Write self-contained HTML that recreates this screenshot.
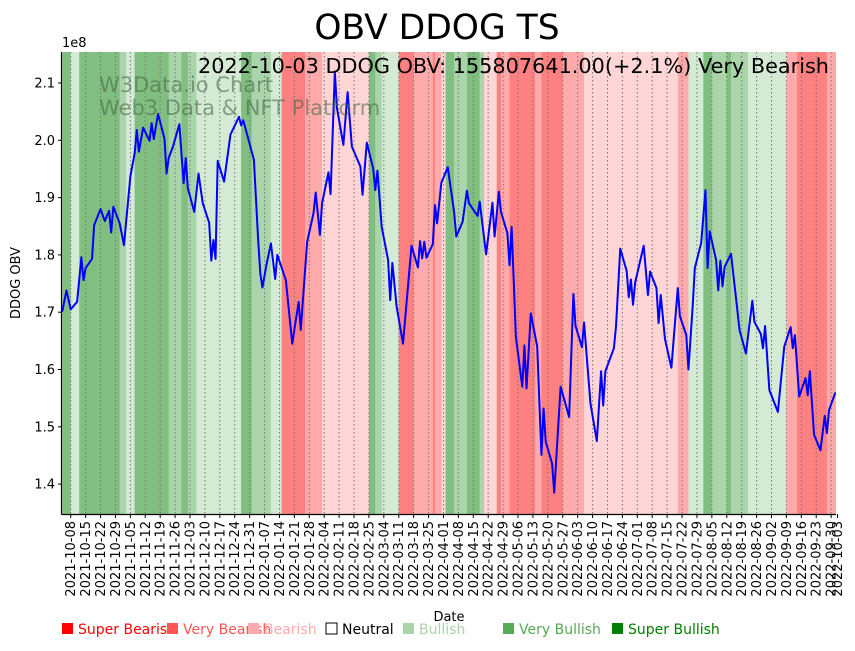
<!DOCTYPE html>
<html><head><meta charset="utf-8"><style>
body{margin:0;background:#fff;}
svg text{font-family:"DejaVu Sans","Liberation Sans",sans-serif;}
</style></head><body>
<svg id="chart" width="855" height="646" xmlns="http://www.w3.org/2000/svg"></svg>
<script>
const days=[0,2,4,7,9,10,11,14,15,18,20,22,23,24,27,29,32,34,35,36,38,41,42,43,45,48,49,50,52,55,57,58,59,62,64,66,69,70,71,72,73,76,79,83,84,85,90,92,93,94,96,98,100,101,105,108,111,112,115,118,119,121,122,125,126,128,129,132,134,136,140,141,143,146,147,148,150,153,154,155,157,160,164,167,168,169,170,171,174,175,176,178,181,184,185,188,190,191,195,196,199,202,203,205,206,209,210,211,213,216,217,218,220,223,225,226,227,230,231,234,238,240,241,244,245,248,251,253,254,255,259,260,262,265,266,267,268,269,273,275,276,279,280,281,283,286,289,290,293,294,296,297,300,302,303,304,307,308,309,310,311,314,316,318,321,324,325,328,329,330,332,336,339,342,343,344,346,349,350,351,353,356,358,359,360,363];
const obv=[1.701,1.738,1.705,1.718,1.796,1.756,1.777,1.793,1.852,1.880,1.859,1.877,1.839,1.884,1.855,1.817,1.937,1.977,2.018,1.980,2.022,1.999,2.030,2.002,2.046,2.003,1.942,1.969,1.989,2.028,1.925,1.969,1.916,1.875,1.942,1.890,1.856,1.790,1.826,1.793,1.964,1.928,2.010,2.041,2.026,2.035,1.966,1.826,1.768,1.743,1.785,1.820,1.758,1.800,1.756,1.645,1.718,1.669,1.823,1.873,1.909,1.835,1.890,1.944,1.906,2.120,2.056,1.992,2.084,1.989,1.954,1.905,1.996,1.951,1.913,1.947,1.849,1.791,1.721,1.786,1.710,1.645,1.816,1.778,1.824,1.794,1.823,1.795,1.819,1.887,1.855,1.926,1.953,1.875,1.832,1.858,1.912,1.890,1.868,1.893,1.801,1.891,1.832,1.910,1.875,1.838,1.782,1.849,1.657,1.570,1.642,1.567,1.698,1.640,1.451,1.532,1.474,1.436,1.385,1.570,1.517,1.732,1.676,1.639,1.682,1.541,1.475,1.597,1.537,1.597,1.637,1.675,1.811,1.772,1.726,1.757,1.713,1.752,1.816,1.730,1.771,1.742,1.681,1.730,1.653,1.603,1.742,1.693,1.660,1.600,1.710,1.777,1.821,1.913,1.777,1.841,1.791,1.738,1.790,1.745,1.779,1.802,1.736,1.669,1.628,1.720,1.683,1.662,1.637,1.676,1.564,1.526,1.640,1.674,1.637,1.660,1.553,1.585,1.555,1.597,1.486,1.459,1.519,1.489,1.529,1.560];
const bandStart=[0,4,8,27,30,34,50,56,59,63,84,89,98,103,114,122,144,147,150,158,165,174,175,178,180,184,190,196,198,204,206,210,222,225,235,245,289,294,301,305,312,314,322,340,345,359];
const bandEnd=[4,8,27,30,34,50,56,59,63,84,89,98,103,114,122,144,147,150,158,165,174,175,178,180,184,190,196,198,204,206,210,222,225,235,245,289,294,301,305,312,314,322,340,345,359,364.5];
const bandLevel=[3,1,3,2,1,3,2,3,2,1,3,2,1,-3,-2,-1,3,2,1,-3,-2,-3,-2,-1,3,2,3,2,-1,-3,-2,-3,-2,-3,-2,-1,-2,1,3,2,3,2,1,-2,-3,-2];
const yTicks=[1.4,1.5,1.6,1.7,1.8,1.9,2.0,2.1];
const tickLabels=[];
(function(){const s=new Date(Date.UTC(2021,9,8));for(let k=0;k<52;k++){const d=new Date(s.getTime()+k*7*864e5);tickLabels.push(d.toISOString().slice(0,10));}tickLabels.push('2022-10-03');})();
const ns='http://www.w3.org/2000/svg';const svg=document.getElementById('chart');
const X0=62,X1=836,Y0=52,Y1=514;
const xs=d=>62.2+2.13*d;const ys=v=>83+(2.1-v)*573;
function mk(t,a,p){const e=document.createElementNS(ns,t);for(const k in a)e.setAttribute(k,a[k]);(p||svg).appendChild(e);return e;}
const colors={'3':'#80bf80','2':'#aad4aa','1':'#d5ead5','-1':'#ffd5d5','-2':'#ffaaaa','-3':'#ff8080'};
const cp=mk('clipPath',{id:'cp'});mk('rect',{x:X0,y:Y0,width:X1-X0,height:Y1-Y0},cp);
const g=mk('g',{'clip-path':'url(#cp)'});

for(let i=0;i<bandStart.length;i++){const a=xs(bandStart[i]),b=xs(bandEnd[i]);
const r=mk('rect',{x:a,y:Y0,width:b-a+0.3,height:Y1-Y0,fill:colors[bandLevel[i]]},g);
}
const tickDays=tickLabels.map(t=>(Date.parse(t)-Date.UTC(2021,9,4))/864e5);
tickDays.forEach(d=>{const l=mk('line',{x1:xs(d),x2:xs(d),y1:Y0,y2:Y1,stroke:'#777','stroke-width':1,'stroke-dasharray':'1.5,2.5'},g);
});
const line=mk('polyline',{points:days.map((d,i)=>xs(d)+','+ys(obv[i])).join(' '),fill:'none',stroke:'#0000ff','stroke-width':2,'stroke-linejoin':'round'},g);

function txt(s,a,name){const t=mk('text',a);t.textContent=s;return t;}
txt('W3Data.io Chart',{x:99,y:92,'font-size':21,fill:'#4a6a4a','fill-opacity':0.6},'watermark-line1');
txt('Web3 Data & NFT Platform',{x:99,y:115,'font-size':21,fill:'#4a6a4a','fill-opacity':0.6},'watermark-line2');
txt('2022-10-03 DDOG OBV: 155807641.00(+2.1%) Very Bearish',{x:829,y:73,'font-size':20.8,'text-anchor':'end',fill:'#000'},'annotation');
mk('line',{x1:X0-0.5,x2:X0-0.5,y1:Y0,y2:Y1+0.5,stroke:'#000','stroke-width':1.2});
mk('line',{x1:X0-0.5,x2:X1,y1:Y1+0.5,y2:Y1+0.5,stroke:'#000','stroke-width':1.2});
yTicks.forEach(v=>{const y=ys(v);const l=mk('line',{x1:X0-4,x2:X0,y1:y,y2:y,stroke:'#000'});
txt(v.toFixed(1),{x:X0-7,y:y+4.5,'font-size':13,'text-anchor':'end'},'y-tick-label');});
tickDays.forEach((d,i)=>{const x=xs(d);const l=mk('line',{x1:x,x2:x,y1:Y1,y2:Y1+4,stroke:'#000'});
txt(tickLabels[i],{x:0,y:0,'font-size':13,'text-anchor':'end',transform:`translate(${x+4.5},${Y1+7}) rotate(-90)`},'x-tick-label');});
txt('1e8',{x:62,y:47,'font-size':13},'y-scale-label');
txt('DDOG OBV',{x:0,y:0,'font-size':13,'text-anchor':'middle',transform:'translate(20,283) rotate(-90)'},'y-axis-title');
txt('Date',{x:449,y:621,'font-size':13,'text-anchor':'middle'},'x-axis-title');
txt('OBV DDOG TS',{x:437,y:39,'font-size':34.5,'text-anchor':'middle'},'chart-title');
const legNames=['Super Bearish','Very Bearish','Bearish','Neutral','Bullish','Very Bullish','Super Bullish'];
const legColors=['#ff0000','#ff5555','#ffaaaa','none','#aad4aa','#55aa55','#008000'];
const legSqX=[62,167,248,326,403,503,612];
legNames.forEach((n,i)=>{const g2=mk('g',{});


const x=legSqX[i];
mk('rect',{x:x,y:623,width:11,height:11,fill:legColors[i]==='none'?'#fff':legColors[i],stroke:legColors[i]==='none'?'#000':'none'},g2);
const t=mk('text',{x:x+16,y:634,'font-size':14,fill:legColors[i]==='none'?'#000':legColors[i]},g2);t.textContent=n;});
</script>
</body></html>
